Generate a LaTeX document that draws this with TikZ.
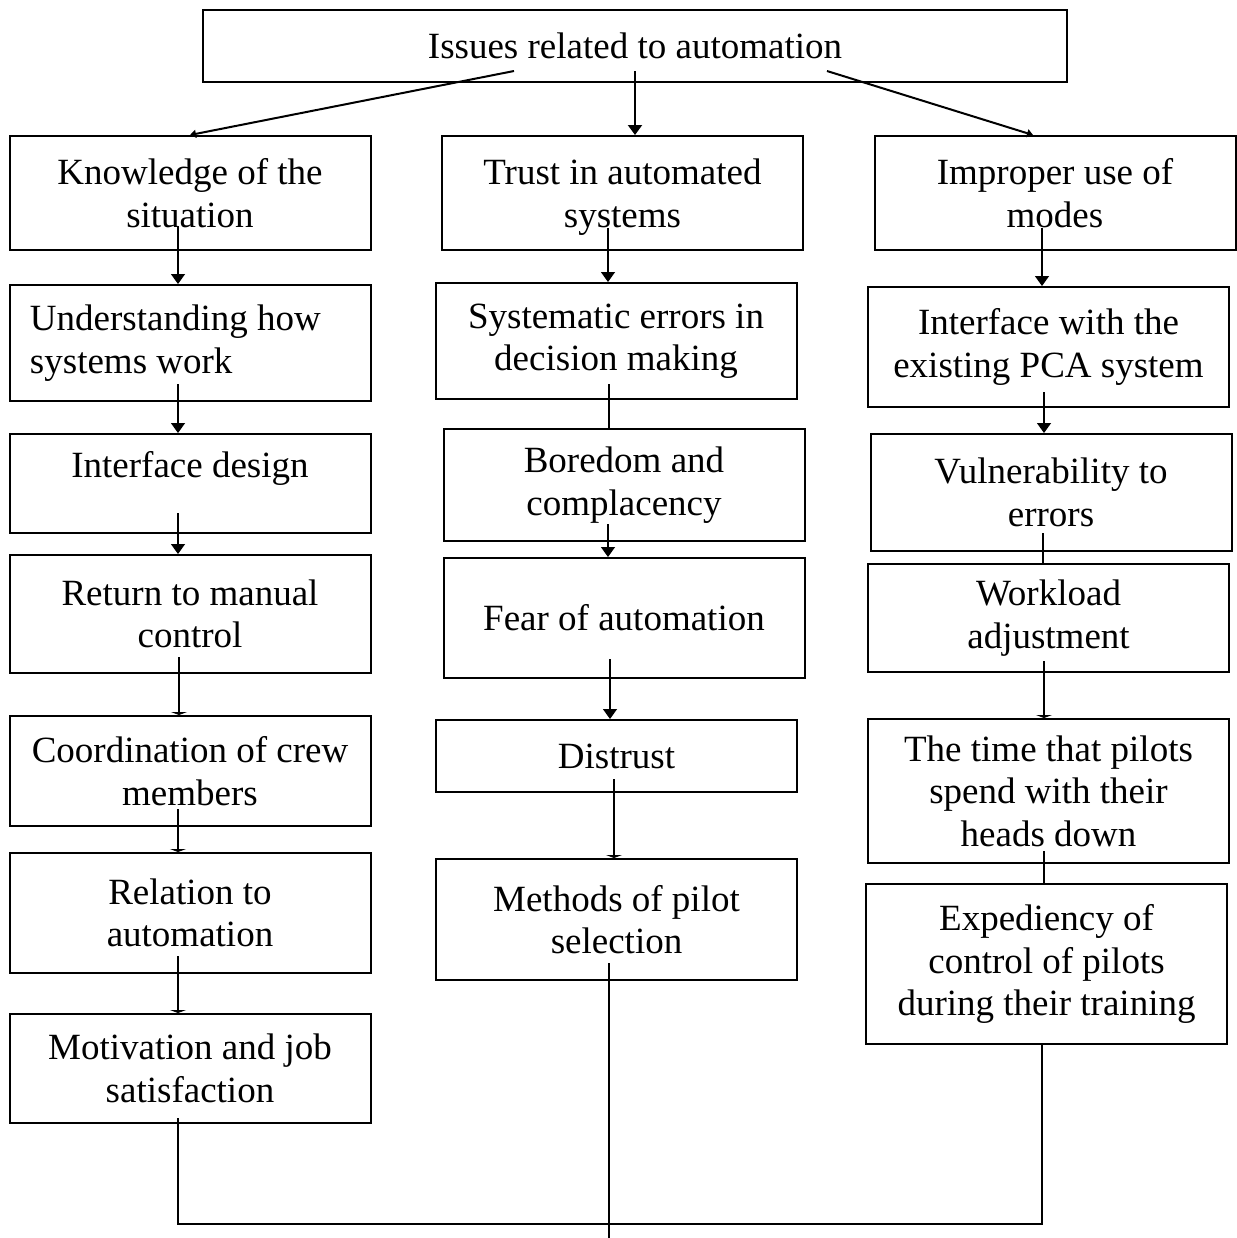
\documentclass[tikz,border=0pt]{standalone}
\usepackage{fontspec}
\setmainfont{Liberation Serif}
\usetikzlibrary{arrows.meta, positioning, calc}

\begin{document}
\begin{tikzpicture}[x=0.5pt, y=-0.5pt,
  box/.style={draw, line width=1pt, minimum width=180.5pt, align=center,
              inner sep=2pt, font=\fontsize{18.5}{21.25}\selectfont},
  link/.style={line width=0.7pt},
  arr/.style={link, -{Triangle[length=5pt, width=7pt]}},
  flat/.style={link, -{Triangle[length=1.5pt, width=8pt]}},
  slant/.style={line width=1pt, -{Triangle[length=3pt, width=4pt]}}]
\useasboundingbox (0,0) rectangle (1237,1238);

% top box
\node[box, minimum width=432pt, minimum height=36pt] (iss) at (635,46) {Issues related to automation};

% left column
\node[box, minimum height=57pt] (sit) at (190,193) {Knowledge of the\\situation};
\node[box, minimum height=58pt, align=flush left, text width=160pt, inner xsep=10.25pt] (und) at (190,343) {Understanding how\\systems work};
\node[box, minimum height=49.5pt, text depth=19pt] (ifd) at (190,483.5) {Interface design};
\node[box, minimum height=59pt] (ret) at (190,614) {Return to manual\\control};
\node[box, minimum height=55pt] (crw) at (190,771) {Coordination of crew\\members};
\node[box, minimum height=60pt] (rel) at (190,913) {Relation to\\automation};
\node[box, minimum height=54.5pt] (mot) at (190,1068.5) {Motivation and job\\satisfaction};

% middle column
\node[box, minimum height=57pt, text depth=0pt] (trs) at (622.5,193) {Trust in automated\\systems};
\node[box, minimum height=58pt] (sys) at (616,341) {Systematic errors in\\decision making};
\node[box, minimum height=56pt] (bor) at (624,485) {Boredom and\\complacency};
\node[box, minimum height=60pt] (fea) at (624,618) {Fear of automation};
\node[box, minimum height=36pt] (dis) at (616.5,756) {Distrust};
\node[box, minimum height=60.5pt] (sel) at (616.5,919.5) {Methods of pilot\\selection};

% right column
\node[box, minimum height=57pt] (mod) at (1055,193) {Improper use of\\modes};
\node[box, minimum height=60pt] (pca) at (1048.5,347) {Interface with the\\existing PCA system};
\node[box, minimum height=58.5pt] (vul) at (1051,492.5) {Vulnerability to\\errors};
\node[box, minimum height=54pt] (wrk) at (1048.5,618) {Workload\\adjustment};
\node[box, minimum height=72pt] (hdn) at (1048.5,791) {The time that pilots\\spend with their\\heads down};
\node[box, minimum height=80pt] (exp) at (1046.5,964) {Expediency of\\control of pilots\\during their training};

% from the top box
\draw[slant] ([xshift=-60.5pt,yshift=6pt]iss.south) -- (sit.north);
\draw[line width=1pt, -{Triangle[length=5pt, width=7pt]}] ([yshift=6pt]iss.south) coordinate (a) -- (a |- trs.north);
\draw[slant] ([xshift=96pt,yshift=6pt]iss.south) -- ([xshift=-11pt]mod.north);

% left column
\draw[arr] ([xshift=-6pt,yshift=12.5pt]sit.south) -- ([xshift=-6pt]und.north);
\draw[arr] ([xshift=-6pt,yshift=9pt]und.south) -- ([xshift=-6pt]ifd.north);
\draw[arr] ([xshift=-6pt,yshift=10.5pt]ifd.south) -- ([xshift=-6pt]ret.north);
\draw[flat] ([xshift=-5.5pt,yshift=8.5pt]ret.south) -- ([xshift=-5.5pt]crw.north);
\draw[flat] ([xshift=-6pt,yshift=9pt]crw.south) -- ([xshift=-6pt]rel.north);
\draw[flat] ([xshift=-6pt,yshift=9pt]rel.south) -- ([xshift=-6pt]mot.north);

% middle column
\draw[arr] ([xshift=-7.25pt,yshift=11.5pt]trs.south) coordinate (a) -- (a |- sys.north);
\draw[link] ([xshift=-3.5pt,yshift=8pt]sys.south) coordinate (a) -- (a |- bor.north);
\draw[arr] ([xshift=-8pt,yshift=9pt]bor.south) coordinate (a) -- (a |- fea.north);
\draw[arr] ([xshift=-7pt,yshift=10pt]fea.south) coordinate (a) -- (a |- dis.north);
\draw[flat] ([xshift=-1.25pt,yshift=7pt]dis.south) coordinate (a) -- (a |- sel.north);

% right column
\draw[arr] ([xshift=-6.5pt,yshift=11.5pt]mod.south) coordinate (a) -- (a |- pca.north);
\draw[arr] ([xshift=-2.25pt,yshift=8pt]pca.south) coordinate (a) -- (a |- vul.north);
\draw[link] ([xshift=-4pt,yshift=9.5pt]vul.south) coordinate (a) -- (a |- wrk.north);
\draw[flat] ([xshift=-2.25pt,yshift=6pt]wrk.south) coordinate (a) -- (a |- hdn.north);
\draw[link] ([xshift=-2.25pt,yshift=6.5pt]hdn.south) coordinate (a) -- (a |- exp.north);

% joining line at the bottom
\coordinate (out) at (609,1238);
\draw[line width=1pt] ([xshift=-6pt,yshift=3pt]mot.south) -- ++(0,106) -| ([xshift=-2.25pt]exp.south);
\draw[link] ([xshift=-3.75pt,yshift=9pt]sel.south) -- (out);
\end{tikzpicture}
\end{document}
